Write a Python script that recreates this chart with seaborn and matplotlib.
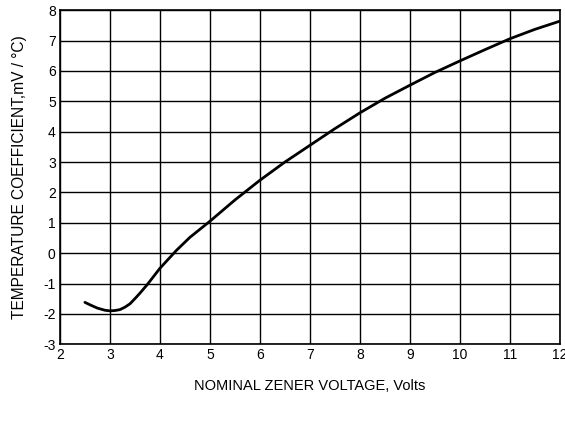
import numpy as np
import pandas as pd
import matplotlib
matplotlib.use("Agg")
import matplotlib.pyplot as plt
import seaborn as sns

# values
voltage = [2.5, 2.6, 2.75, 2.9, 3.0, 3.1, 3.2, 3.3, 3.4, 3.5, 3.6, 3.75, 4.0,
           4.33, 4.6, 5.0, 5.5, 6.0, 6.5, 7.0, 7.5, 8.0, 8.5, 9.0, 9.5, 10.0,
           10.5, 11.0, 11.5, 12.0]
temp_coeff = [-1.62, -1.70, -1.81, -1.88, -1.90, -1.89, -1.86, -1.78, -1.67,
              -1.50, -1.32, -1.03, -0.50, 0.09, 0.52, 1.05, 1.75, 2.4, 3.0,
              3.55, 4.1, 4.62, 5.1, 5.53, 5.95, 6.33, 6.7, 7.06, 7.37, 7.64]
x_ticks = list(range(2, 13))
y_ticks = list(range(-3, 9))

df = pd.DataFrame({"voltage": voltage, "tc": temp_coeff})

sns.set_theme(style="white")
plt.rcParams["font.family"] = ["Liberation Sans", "DejaVu Sans"]
plt.rcParams["axes.unicode_minus"] = False

fig = plt.figure(figsize=(5.65, 4.25), dpi=100)
ax = fig.add_axes([0.106, 0.19, 0.885, 0.786])

sns.lineplot(data=df, x="voltage", y="tc", color="black", linewidth=2, ax=ax)

ax.set_xlim(2, 12)
ax.set_ylim(-3, 8)
ax.set_xticks(x_ticks)
ax.set_yticks(y_ticks)
ax.grid(True, color="black", linewidth=1)
ax.tick_params(axis="both", length=0, labelsize=10, colors="black", pad=3)
for s in ax.spines.values():
    s.set_color("black")
    s.set_linewidth(1.2)

ax.set_xlabel("NOMINAL ZENER VOLTAGE, Volts", fontsize=10.5, labelpad=12, color="black")
ax.set_ylabel("TEMPERATURE COEFFICIENT,mV / °C)", fontsize=11.2, labelpad=12, color="black")

fig.savefig("out.png", dpi=100)
